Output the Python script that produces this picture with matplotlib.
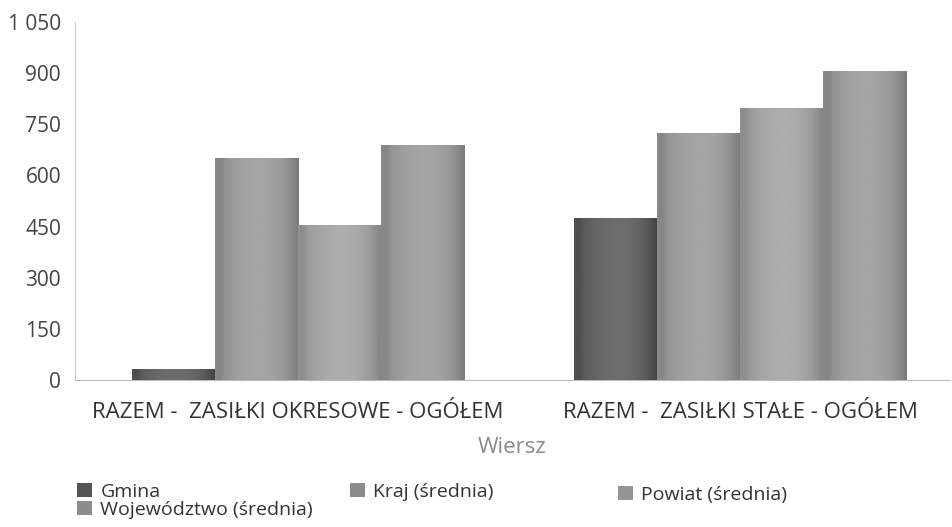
import matplotlib
matplotlib.use("Agg")
import matplotlib.pyplot as plt
import numpy as np
from matplotlib.ticker import FuncFormatter
from matplotlib.patches import Patch

plt.rcParams['font.family'] = ['Open Sans', 'DejaVu Sans']

# data
categories = ["RAZEM -  ZASIŁKI OKRESOWE - OGÓŁEM", "RAZEM -  ZASIŁKI STAŁE - OGÓŁEM"]
series_names = ["Gmina", "Kraj (średnia)", "Powiat (średnia)", "Województwo (średnia)"]
gmina = [32, 476]
kraj = [650, 724]
powiat = [456, 797]
wojewodztwo = [688, 906]
y_ticks = [0, 150, 300, 450, 600, 750, 900, 1050]

series_values = [gmina, kraj, powiat, wojewodztwo]
base_gray = [0.33, 0.55, 0.58, 0.55]

fig = plt.figure(figsize=(9.52, 5.27), dpi=100)
ax = fig.add_axes([75 / 952, 1 - 380 / 527, 875 / 952, 358 / 527])

x = np.arange(len(categories))
width = 0.188
offsets = (np.arange(len(series_values)) - 1.5) * width


def shade(g):
    # cylinder-like horizontal shading of a grey level
    t = np.linspace(0, 1, 64)
    prof = g + 0.10 * np.sin(np.pi * t * 0.9) - 0.10 * t ** 6 - 0.04 * np.exp(-((t - 0.05) / 0.05) ** 2)
    prof = np.clip(prof, 0, 1)
    return np.tile(prof, (2, 1))


for vals, off, g, name in zip(series_values, offsets, base_gray, series_names):
    bars = ax.bar(x + off, vals, width, color=str(g), label=name, linewidth=0, zorder=2)
    for b in bars:
        x0, y0 = b.get_x(), b.get_y()
        w, h = b.get_width(), b.get_height()
        im = ax.imshow(shade(g), cmap='gray', vmin=0, vmax=1, aspect='auto',
                       extent=[x0, x0 + w, y0, y0 + h], zorder=3, interpolation='bilinear')
        im.set_clip_path(b)

ax.set_xlim(-0.505, 1.475)
ax.set_ylim(0, 1050)
ax.set_yticks(y_ticks)
ax.yaxis.set_major_formatter(FuncFormatter(lambda v, p: f"{int(v):,}".replace(",", " ")))
ax.set_xticks(x)
ax.set_xticklabels(categories, fontsize=16, color='#333333')
ax.tick_params(axis='y', labelsize=15, colors='#444444', length=0, pad=10)
ax.tick_params(axis='x', length=0, pad=16)

for s in ['top', 'right']:
    ax.spines[s].set_visible(False)
ax.spines['left'].set_color('#cccccc')
ax.spines['left'].set_linewidth(0.8)
ax.spines['bottom'].set_color('#bbbbbb')
ax.spines['bottom'].set_linewidth(0.8)

ax.set_xlabel("Wiersz", fontsize=16, color='#8a8a8a', labelpad=10)

handles = [Patch(facecolor=str(g), edgecolor='none') for g in base_gray]
leg_kw = dict(frameon=False, fontsize=14, handlelength=0.75, handleheight=0.75,
              handletextpad=0.45, labelspacing=0.0, borderpad=0, borderaxespad=0,
              labelcolor='#333333')
leg1 = fig.legend([handles[0], handles[3]], [series_names[0], series_names[3]],
                  loc='center left', bbox_to_anchor=(77 / 952, 1 - 501 / 527), **leg_kw)
leg2 = fig.legend([handles[1]], [series_names[1]],
                  loc='center left', bbox_to_anchor=(350 / 952, 1 - 492 / 527), **leg_kw)
leg3 = fig.legend([handles[2]], [series_names[2]],
                  loc='center left', bbox_to_anchor=(618 / 952, 1 - 495 / 527), **leg_kw)

fig.savefig("out.png", dpi=100, facecolor='white')
